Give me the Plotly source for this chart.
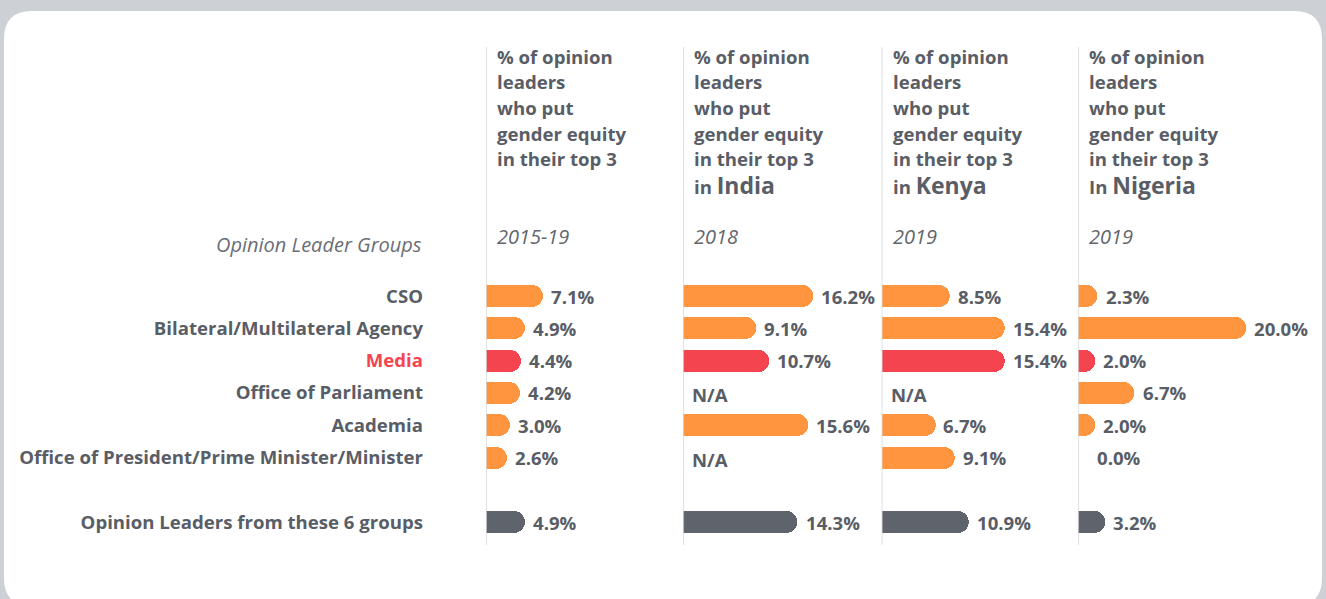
import plotly.graph_objects as go

# ---------------- data ----------------
groups = ["CSO", "Bilateral/Multilateral Agency", "Media", "Office of Parliament",
          "Academia", "Office of President/Prime Minister/Minister",
          "Opinion Leaders from these 6 groups"]
overall_2015_19 = [7.1, 4.9, 4.4, 4.2, 3.0, 2.6, 4.9]
india_2018 = [16.2, 9.1, 10.7, None, 15.6, None, 14.3]
kenya_2019 = [8.5, 15.4, 15.4, None, 6.7, 9.1, 10.9]
nigeria_2019 = [2.3, 20.0, 2.0, 6.7, 2.0, 0.0, 3.2]
panel_countries = ["", "India", "Kenya", "Nigeria"]
panel_years = ["2015-19", "2018", "2019", "2019"]
header_lines = ["% of opinion", "leaders", "who put", "gender equity", "in their top 3"]

# ---------------- styling ----------------
W, H = 1326, 599
ORANGE = "#ff953f"
RED = "#f4444f"
DARK = "#5f636b"
TXT = "#595d66"
FONT = "Open Sans"
FS = 18.6
WT = 700
rows = [0, 1, 2, 3, 4, 5, 7]
bar_colors = [ORANGE, ORANGE, RED, ORANGE, ORANGE, ORANGE, DARK]

ROW0_PX, ROW_PX = 296, 32.3
def py2y(p):
    return (p - ROW0_PX) / ROW_PX

panels = [
    (overall_2015_19, 486.0, 683.3, 8.0),
    (india_2018, 683.3, 881.7, 8.0),
    (kenya_2019, 881.7, 1078.3, 8.0),
    (nigeria_2019, 1078.3, 1326.0, 8.4),
]
BAR_PX = 22
bar_w = BAR_PX / ROW_PX

fig = go.Figure()
annotations = []
shapes = []

# card background
x0, x1 = 4 / W, 1322 / W
yt, yb = 1 - 11 / H, 1 - 606 / H
rx, ry = 28 / W, 28 / H
card = (f"M {x0+rx},{yt} L {x1-rx},{yt} Q {x1},{yt} {x1},{yt-ry} "
        f"L {x1},{yb+ry} Q {x1},{yb} {x1-rx},{yb} L {x0+rx},{yb} "
        f"Q {x0},{yb} {x0},{yb+ry} L {x0},{yt-ry} Q {x0},{yt} {x0+rx},{yt} Z")
shapes.append(dict(type="path", path=card, xref="paper", yref="paper",
                   fillcolor="white", line=dict(width=0), layer="below"))

for k, (vals, left, right, scale) in enumerate(panels):
    xa = "x" if k == 0 else f"x{k+1}"
    xlayout = "xaxis" if k == 0 else f"xaxis{k+1}"
    r_units = (BAR_PX / 2) / scale
    full = [v if v is not None else 0 for v in vals]
    body = [max(v - r_units, 0) if v else 0 for v in full]
    fig.add_trace(go.Bar(y=rows, x=full, orientation="h", xaxis=xa, yaxis="y",
                         width=bar_w, marker=dict(color=bar_colors, cornerradius="50%",
                                                  line=dict(width=0)),
                         hoverinfo="skip", showlegend=False))
    fig.add_trace(go.Bar(y=rows, x=body, orientation="h", xaxis=xa, yaxis="y",
                         width=bar_w, marker=dict(color=bar_colors, line=dict(width=0)),
                         hoverinfo="skip", showlegend=False))
    fig.update_layout(**{xlayout: dict(domain=[left / W, right / W],
                                       range=[0, (right - left) / scale],
                                       visible=False, anchor="y", fixedrange=True)})
    # separator line
    shapes.append(dict(type="line", xref=xa, yref="y", x0=0, x1=0,
                       y0=py2y(47), y1=py2y(545), line=dict(color="#d6d8db", width=1.5)))
    # value labels
    for v, r in zip(vals, rows):
        if v is None:
            txt, shift = "N/A", 7
        elif v == 0:
            txt, shift = f"{v:.1f}%", 17
        else:
            txt, shift = f"{v:.1f}%", 6
        annotations.append(dict(x=0 if v is None else v, y=r, xref=xa, yref="y",
                                text=txt, showarrow=False, xanchor="left", yanchor="middle",
                                xshift=shift, yshift=-2 if v is None else 0,
                                font=dict(family=FONT, size=FS, color=TXT, weight=WT)))
    # header
    header_px = [56.5, 81.5, 107, 133, 158.5]
    for line, p in zip(header_lines, header_px):
        annotations.append(dict(x=0, y=py2y(p), xref=xa, yref="y", text=line,
                                showarrow=False, xanchor="left", yanchor="middle", xshift=9,
                                font=dict(family=FONT, size=FS, color=TXT, weight=WT)))
    if panel_countries[k]:
        prefix = "In" if panel_countries[k] == "Nigeria" else "in"
        annotations.append(dict(x=0, y=py2y(185), xref=xa, yref="y",
                                text=f"{prefix} <span style='font-size:23px'>{panel_countries[k]}</span>",
                                showarrow=False, xanchor="left", yanchor="middle", xshift=9,
                                font=dict(family=FONT, size=FS, color=TXT, weight=WT)))
    annotations.append(dict(x=0, y=py2y(236.5), xref=xa, yref="y",
                            text=f"<i>{panel_years[k]}</i>", showarrow=False,
                            xanchor="left", yanchor="middle", xshift=9,
                            font=dict(family=FONT, size=20, color="#62666d")))

annotations.append(dict(x=424 / W, y=py2y(244.5), xref="paper", yref="y",
                        text="<i>Opinion Leader Groups</i>", showarrow=False,
                        xanchor="right", yanchor="middle",
                        font=dict(family=FONT, size=20, color="#6a6e75")))

ticktext = [f"<span style='color:{RED}'>{g}</span>" if g == "Media" else g for g in groups]

fig.update_layout(
    width=W, height=H, autosize=False,
    margin=dict(l=0, r=0, t=0, b=0, pad=0),
    paper_bgcolor="#cdd0d4", plot_bgcolor="rgba(0,0,0,0)",
    barmode="overlay", bargap=0,
    yaxis=dict(domain=[0, 1], range=[py2y(H), py2y(0)], anchor="x",
               tickvals=rows, ticktext=ticktext, ticks="", ticklen=0,
               showgrid=False, zeroline=False, showline=False,
               ticklabelstandoff=62, fixedrange=True,
               tickfont=dict(family=FONT, size=FS, color=TXT, weight=WT)),
    shapes=shapes, annotations=annotations,
    font=dict(family=FONT, color=TXT),
)

fig.write_html("out.html", config={"displayModeBar": False},
               post_script="document.body.style.margin='0px';document.body.style.overflow='hidden';")
